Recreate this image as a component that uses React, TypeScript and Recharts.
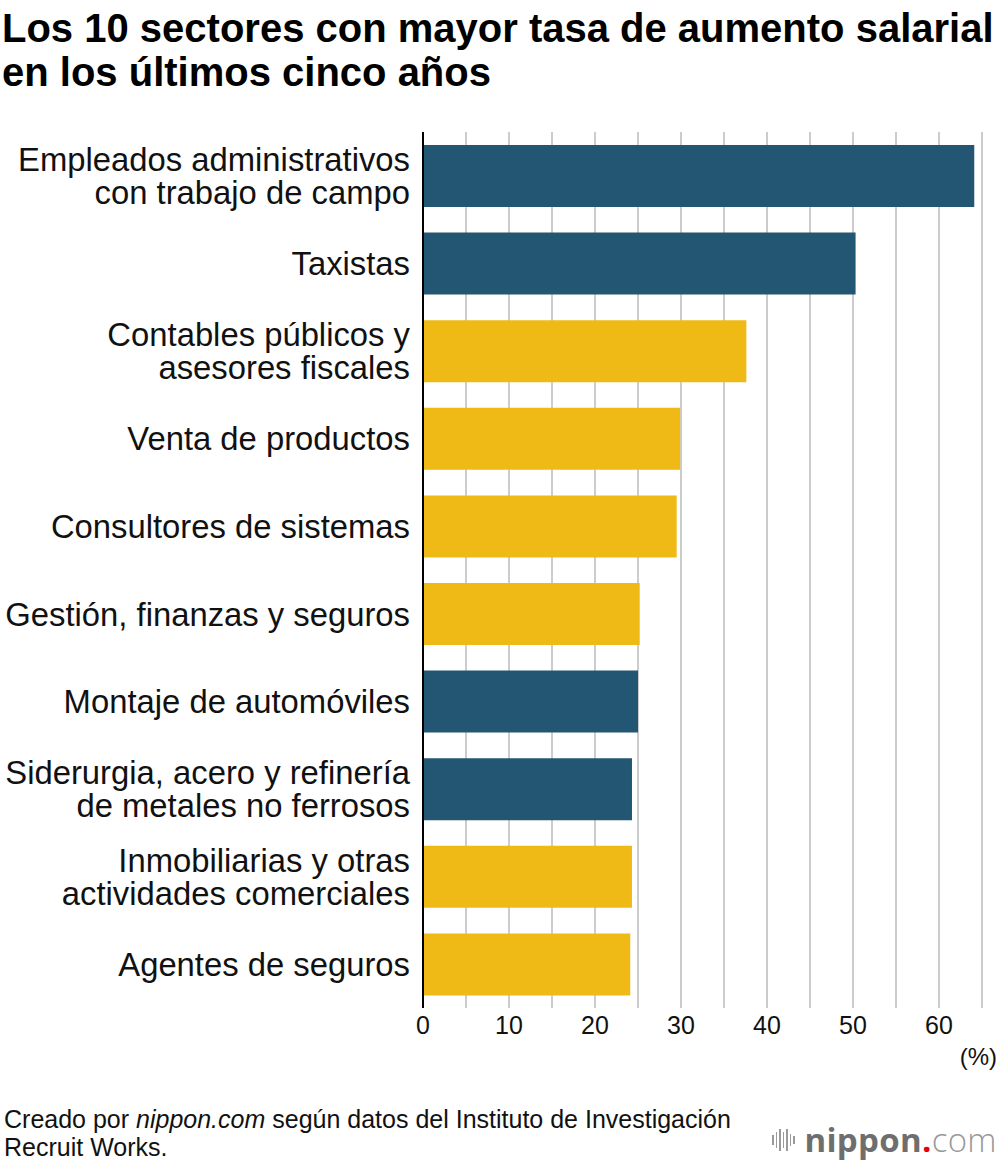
import { BarChart, Bar, XAxis, YAxis, CartesianGrid, Cell } from 'recharts';

// Sector names (line breaks mark where the axis label wraps)
const sectors = [
  'Empleados administrativos\ncon trabajo de campo',
  'Taxistas',
  'Contables públicos y\nasesores fiscales',
  'Venta de productos',
  'Consultores de sistemas',
  'Gestión, finanzas y seguros',
  'Montaje de automóviles',
  'Siderurgia, acero y refinería\nde metales no ferrosos',
  'Inmobiliarias y otras\nactividades comerciales',
  'Agentes de seguros',
];

// Wage increase over five years, %
const increases = [64.1, 50.3, 37.6, 29.9, 29.5, 25.2, 25.0, 24.3, 24.3, 24.1];

// 'blue' = manual / field work, 'gold' = office / services
const groups = ['blue', 'blue', 'gold', 'gold', 'gold', 'gold', 'blue', 'blue', 'gold', 'gold'];

const xTicks = [0, 5, 10, 15, 20, 25, 30, 35, 40, 45, 50, 55, 60, 65];

const groupColors: Record<string, string> = {
  blue: '#235673',
  gold: '#f0ba16',
};

const data = sectors.map((sector, i) => ({
  sector,
  value: increases[i],
  group: groups[i],
}));

const FONT = '"Liberation Sans", Arial, Helvetica, sans-serif';

const SectorTick = (props: any) => {
  const { x, y, payload } = props;
  const lines: string[] = String(payload.value).split('\n');
  const lh = 33;
  const y0 = y - ((lines.length - 1) * lh) / 2;
  const tx = x - 5;
  return (
    <text x={tx} y={y0} textAnchor="end" fontFamily={FONT} fontSize={32.8} fill="#111">
      {lines.map((line, i) => (
        <tspan key={i} x={tx} y={y0 + i * lh} dy="0.36em">
          {line}
        </tspan>
      ))}
    </text>
  );
};

function Logo() {
  const bars = [10, 16, 22, 16, 22, 12, 8];
  return (
    <div style={{ position: 'absolute', left: 772, top: 1121, display: 'flex', alignItems: 'center', height: 38 }}>
      <div style={{ display: 'flex', alignItems: 'center', gap: 2, marginRight: 10 }}>
        {bars.map((h, i) => (
          <div key={i} style={{ width: 1.5, height: h, background: '#9a9a9a' }} />
        ))}
      </div>
      <span style={{ fontFamily: '"Open Sans", sans-serif', fontSize: 33, lineHeight: '38px', letterSpacing: 0.3 }}>
        <span style={{ fontWeight: 700, color: '#6e6e6e' }}>nippon</span>
        <span style={{ fontWeight: 700, color: '#e60012' }}>.</span>
        <span style={{ fontWeight: 300, color: '#999' }}>com</span>
      </span>
    </div>
  );
}

export default function App() {
  return (
    <div style={{ position: 'absolute', left: 0, top: 0, width: 1000, height: 1164, background: '#fff', fontFamily: FONT }}>
      <div style={{ position: 'absolute', left: 2, top: 6, fontSize: 40, lineHeight: '44px', fontWeight: 700, color: '#000', whiteSpace: 'nowrap' }}>
        Los 10 sectores con mayor tasa de aumento salarial
        <br />
        en los últimos cinco años
      </div>

      <div style={{ position: 'absolute', left: 0, top: 0 }}>
        <BarChart
          width={1000}
          height={1070}
          data={data}
          layout="vertical"
          margin={{ top: 132, right: 18, bottom: 22, left: 0 }}
        >
          <CartesianGrid horizontal={false} stroke="#cccccc" strokeWidth={2} />
          <XAxis
            type="number"
            domain={[0, 65]}
            ticks={xTicks}
            interval={0}
            axisLine={false}
            tickLine={false}
            height={40}
            tickFormatter={(v: number) => (v % 10 === 0 && v <= 60 ? String(v) : '')}
            tick={{ fontSize: 25, fill: '#111', fontFamily: FONT }}
          />
          <YAxis
            type="category"
            dataKey="sector"
            width={423}
            axisLine={{ stroke: '#000', strokeWidth: 2 }}
            tickLine={false}
            interval={0}
            tick={<SectorTick />}
          />
          <Bar dataKey="value" barSize={62} isAnimationActive={false}>
            {data.map((d, i) => (
              <Cell key={i} fill={groupColors[d.group]} />
            ))}
          </Bar>
        </BarChart>
      </div>

      <div style={{ position: 'absolute', right: 3, top: 1042, fontSize: 24, lineHeight: '30px', color: '#111' }}>(%)</div>

      <div style={{ position: 'absolute', left: 4, top: 1105, fontSize: 25, lineHeight: '28px', color: '#111', whiteSpace: 'nowrap' }}>
        Creado por <i>nippon.com</i> según datos del Instituto de Investigación
        <br />
        Recruit Works.
      </div>

      <Logo />
    </div>
  );
}
